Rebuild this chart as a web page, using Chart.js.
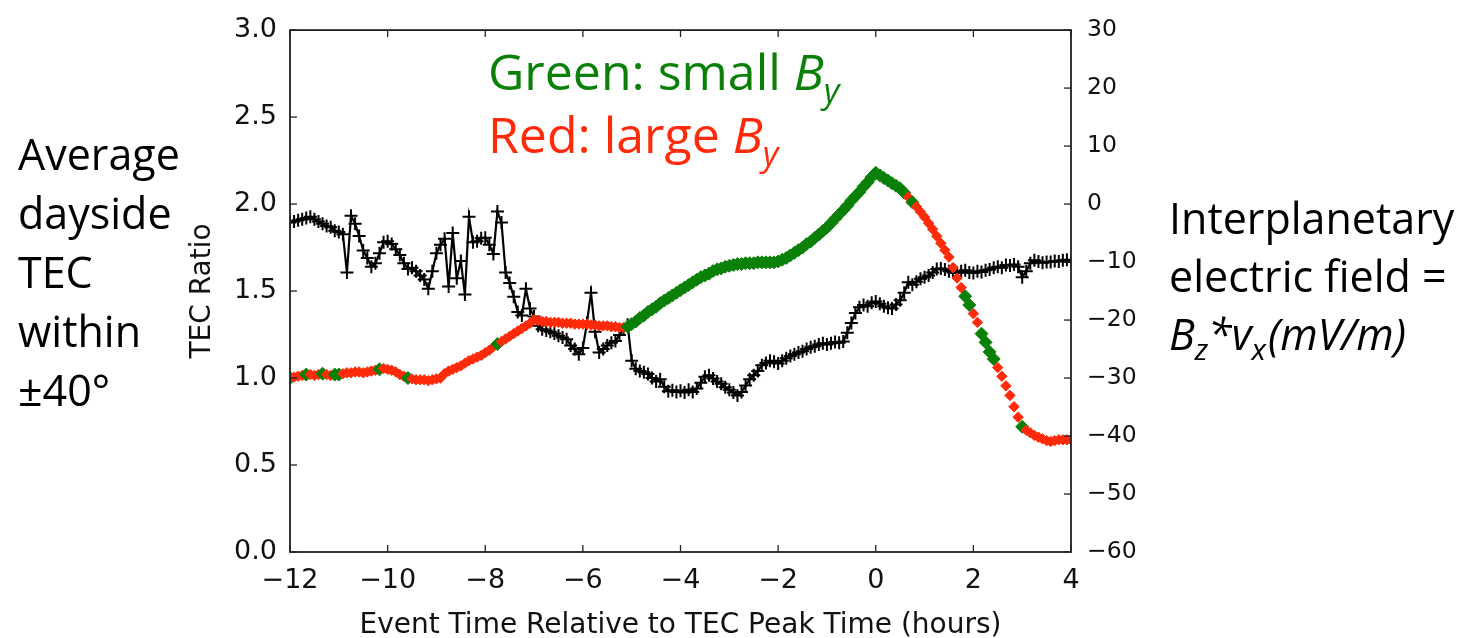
<!DOCTYPE html>
<html><head><meta charset="utf-8">
<script src="https://cdn.jsdelivr.net/npm/chart.js@4.4.1/dist/chart.umd.min.js"></script>
<style>html,body{margin:0;padding:0;background:#fff;overflow:hidden}canvas{display:block}</style>
</head><body>
<canvas id="c" width="1461" height="638"></canvas>
<script>
// ---- DATA ----
const startHour = -12;          // first sample (hours relative to TEC peak)
const stepHours = 5 / 60;       // 5-minute sampling
const tecRatio = [
  1.00,1.005,1.01,1.015,1.02,1.02,1.015,1.02,1.025,1.02,1.015,1.02,
  1.02,1.025,1.03,1.03,1.035,1.035,1.03,1.035,1.04,1.045,1.05,1.055,
  1.05,1.045,1.035,1.02,1.01,1.0,0.995,0.99,0.99,0.99,0.985,0.99,
  0.995,1.0,1.025,1.04,1.05,1.06,1.07,1.085,1.10,1.11,1.12,1.13,
  1.145,1.16,1.18,1.195,1.21,1.225,1.24,1.255,1.27,1.285,1.30,1.315,
  1.335,1.33,1.325,1.325,1.32,1.32,1.32,1.315,1.315,1.315,1.31,1.31,
  1.31,1.31,1.305,1.305,1.30,1.30,1.30,1.295,1.295,1.29,1.29,1.295,
  1.31,1.325,1.345,1.36,1.38,1.395,1.41,1.43,1.445,1.46,1.475,1.49,
  1.505,1.52,1.535,1.55,1.565,1.58,1.59,1.60,1.615,1.625,1.63,1.64,
  1.645,1.65,1.655,1.655,1.66,1.66,1.66,1.665,1.665,1.665,1.665,1.665,
  1.67,1.68,1.69,1.705,1.72,1.735,1.75,1.77,1.785,1.805,1.825,1.845,
  1.865,1.89,1.915,1.94,1.965,1.99,2.02,2.045,2.07,2.10,2.125,2.155,
  2.18,2.165,2.15,2.135,2.12,2.105,2.09,2.065,2.04,2.01,1.985,1.955,
  1.925,1.89,1.855,1.815,1.775,1.735,1.695,1.635,1.575,1.52,1.47,1.42,
  1.37,1.32,1.255,1.205,1.15,1.11,1.06,1.01,0.955,0.90,0.835,0.775,
  0.72,0.70,0.685,0.67,0.66,0.65,0.64,0.635,0.64,0.645,0.645,0.645,0.645
];
// S = small By (green), L = large By (red), one letter per TEC sample
const byClass =
  "SLLLSLLLSLLS" + "SLLLLLLLLLSL" + "LLLLLSLLLLLL" + "LLLLLLLLLLLL" +
  "LLLSLLLLLLLL" + "LLLLLLLLLLLL" + "LLLLLLLLLLLS" + "SSSSSSSSSSSS" +
  "SSSSSSSSSSSS" + "SSSSSSSSSSSS" + "SSSSSSSSSSSS" + "SSSSSSSSSSSS" +
  "SSSSSSSSLSLL" + "LLLLLLLLLLSS" + "LLSSSSLLLLLL" + "SLLLLLLLLLLLL";
const iefValues = [
  -3.2,-3.0,-2.8,-2.6,-2.4,-2.2,-2.6,-3.0,-3.4,-3.8,-4.0,-4.6,
  -4.8,-5.2,-11.8,-2.0,-3.4,-5.5,-8.0,-9.3,-10.8,-10.2,-8.5,-6.6,
  -6.4,-6.9,-7.8,-8.8,-10.2,-11.2,-11.0,-11.6,-12.3,-13.0,-14.6,-11.6,
  -8.5,-7.0,-6.0,-14.2,-5.0,-12.8,-9.8,-15.6,-2.2,-6.6,-6.4,-5.9,
  -5.8,-7.0,-8.6,-1.3,-3.2,-11.8,-13.6,-16.0,-18.6,-19.2,-14.6,-18.0,
  -19.4,-21.0,-21.6,-21.8,-22.0,-22.3,-22.7,-23.0,-23.3,-24.4,-25.0,-25.9,
  -24.8,-20.5,-15.3,-22.0,-25.6,-25.0,-24.4,-23.9,-23.6,-22.6,-21.6,-20.8,
  -27.0,-28.4,-28.8,-29.0,-29.3,-30.0,-30.6,-30.2,-31.5,-32.3,-32.1,-32.4,
  -32.2,-32.5,-32.0,-32.4,-31.8,-30.8,-29.8,-29.5,-30.1,-30.6,-31.0,-31.6,
  -32.0,-32.5,-33.0,-32.4,-31.3,-30.2,-29.5,-28.8,-27.8,-27.4,-27.0,-27.2,
  -27.5,-27.0,-26.6,-26.2,-25.9,-25.6,-25.4,-25.0,-24.7,-24.5,-24.2,-24.0,
  -24.2,-24.0,-23.8,-23.9,-23.7,-22.2,-20.5,-18.8,-17.8,-17.4,-17.6,-17.0,
  -16.8,-17.2,-17.6,-17.9,-18.0,-17.3,-16.6,-15.3,-13.5,-13.9,-13.4,-12.9,
  -12.6,-12.3,-11.8,-11.2,-11.1,-11.3,-11.6,-11.8,-11.9,-11.6,-11.4,-11.8,
  -11.9,-11.6,-11.7,-11.4,-11.3,-11.0,-10.8,-11.0,-10.5,-10.6,-10.4,-10.8,
  -12.6,-11.6,-10.2,-9.7,-9.9,-10.1,-10.0,-10.0,-9.8,-9.9,-9.7,-9.6,-10.0
];
const xTickValues = [-12, -10, -8, -6, -4, -2, 0, 2, 4];
const leftTickValues = [0, 0.5, 1.0, 1.5, 2.0, 2.5, 3.0];
const rightTickValues = [-60, -50, -40, -30, -20, -10, 0, 10, 20, 30];

// ---- STYLE ----
const GREEN = '#0a8009', RED = '#ff2a0a', AXIS = '#222';
const minus = v => String(v).replace('-', '\u2212');

const tecPoints = tecRatio.map((v, i) => ({ x: startHour + i * stepHours, y: v }));
const iefPoints = iefValues.map((v, i) => ({ x: startHour + i * stepHours, y: v }));

const frameTicks = {
  id: 'frameTicks',
  afterDraw(chart) {
    const { ctx, chartArea: a, scales } = chart;
    ctx.save();
    ctx.strokeStyle = AXIS;
    ctx.lineWidth = 1.8;
    ctx.strokeRect(a.left, a.top, a.right - a.left, a.bottom - a.top);
    ctx.lineWidth = 1.3;
    const L = 7;
    const seg = (x1, y1, x2, y2) => { ctx.beginPath(); ctx.moveTo(x1, y1); ctx.lineTo(x2, y2); ctx.stroke(); };
    scales.x.ticks.forEach(t => {
      const p = scales.x.getPixelForValue(t.value);
      seg(p, a.bottom, p, a.bottom - L); seg(p, a.top, p, a.top + L);
    });
    scales.y.ticks.forEach(t => { const p = scales.y.getPixelForValue(t.value); seg(a.left, p, a.left + L, p); });
    scales.y2.ticks.forEach(t => { const p = scales.y2.getPixelForValue(t.value); seg(a.right, p, a.right - L, p); });
    ctx.restore();
  }
};

function runs(ctx, x, y, parts) {
  parts.forEach(p => {
    ctx.font = p.font; ctx.fillStyle = p.color;
    ctx.fillText(p.text, x, y + (p.dy || 0));
    x += ctx.measureText(p.text).width + (p.gap || 0);
  });
}

const annotations = {
  id: 'annotations',
  afterDraw(chart) {
    const ctx = chart.ctx;
    ctx.save();
    ctx.textBaseline = 'alphabetic';
    ctx.textAlign = 'left';
    const big = '43px "Open Sans"', bigI = 'italic 43px "Open Sans"', subI = 'italic 30px "Open Sans"';
    ctx.fillStyle = '#000';
    ctx.font = big;
    ['Average', 'dayside', 'TEC', 'within', '\u00B140\u00B0'].forEach((s, i) => ctx.fillText(s, 18, 170 + i * 59));
    ctx.fillText('Interplanetary', 1169, 234);
    ctx.fillText('electric field =', 1169, 292);
    runs(ctx, 1169, 350, [
      { text: 'B', font: bigI, color: '#000' },
      { text: 'z', font: subI, color: '#000', dy: 10 },
      { text: '*v', font: bigI, color: '#000' },
      { text: 'x', font: subI, color: '#000', dy: 10, gap: 2 },
      { text: '(mV/m)', font: bigI, color: '#000' }
    ]);
    const leg = '50px "Open Sans"', legI = 'italic 50px "Open Sans"', legS = 'italic 34px "Open Sans"';
    runs(ctx, 488, 90, [
      { text: 'Green: small ', font: leg, color: GREEN },
      { text: 'B', font: legI, color: GREEN },
      { text: 'y', font: legS, color: GREEN, dy: 13 }
    ]);
    runs(ctx, 488, 153, [
      { text: 'Red: large ', font: leg, color: RED },
      { text: 'B', font: legI, color: RED },
      { text: 'y', font: legS, color: RED, dy: 13 }
    ]);
    ctx.restore();
  }
};

const tickFont = { family: 'DejaVu Sans', size: 27 };
new Chart(document.getElementById('c'), {
  type: 'line',
  data: {
    datasets: [
      {
        label: 'TEC Ratio', data: tecPoints, yAxisID: 'y', order: 0,
        showLine: false, pointStyle: 'rectRot',
        pointRadius: c => byClass[c.dataIndex] === 'S' ? 6.5 : 5.2,
        pointBackgroundColor: c => byClass[c.dataIndex] === 'S' ? GREEN : RED,
        pointBorderColor: c => byClass[c.dataIndex] === 'S' ? GREEN : RED,
        pointBorderWidth: 1
      },
      {
        label: 'IEF', data: iefPoints, yAxisID: 'y2', order: 1,
        borderColor: '#000', borderWidth: 2.2, tension: 0,
        pointStyle: 'cross', pointRadius: 6.5, pointBorderColor: '#000', pointBorderWidth: 2,
        pointBackgroundColor: '#000'
      }
    ]
  },
  options: {
    responsive: false, animation: false, devicePixelRatio: 1,
    layout: { padding: { left: 184, top: 24, right: 0, bottom: 0 } },
    plugins: { legend: { display: false }, tooltip: { enabled: false } },
    scales: {
      x: {
        type: 'linear', position: 'bottom', min: -12, max: 4,
        grid: { display: false, drawTicks: false }, border: { display: false },
        afterBuildTicks: s => { s.ticks = xTickValues.map(v => ({ value: v })); },
        afterFit: s => { s.height = 86; },
        ticks: { font: tickFont, color: '#111', padding: 13, maxRotation: 0, autoSkip: false, callback: v => minus(v) },
        title: { display: true, text: 'Event Time Relative to TEC Peak Time (hours)', color: '#111',
                 font: { family: 'DejaVu Sans', size: 28 }, padding: { top: 0, bottom: -5 } }
      },
      y: {
        position: 'left', min: 0, max: 3,
        grid: { display: false, drawTicks: false }, border: { display: false },
        afterBuildTicks: s => { s.ticks = leftTickValues.map(v => ({ value: v })); },
        afterFit: s => { s.width = 106; },
        ticks: { font: tickFont, color: '#111', padding: 13, callback: v => Number(v).toFixed(1) },
        title: { display: true, text: 'TEC Ratio', color: '#111',
                 font: { family: 'DejaVu Sans', size: 28 }, padding: { top: 2, bottom: 0 } }
      },
      y2: {
        position: 'right', min: -60, max: 30,
        grid: { display: false, drawTicks: false }, border: { display: false },
        afterBuildTicks: s => { s.ticks = rightTickValues.map(v => ({ value: v })); },
        afterFit: s => { s.width = 390; },
        ticks: { font: { family: 'DejaVu Sans', size: 23.5 }, color: '#111', padding: 16, callback: v => minus(v) }
      }
    }
  },
  plugins: [frameTicks, annotations]
});
</script>
</body></html>
